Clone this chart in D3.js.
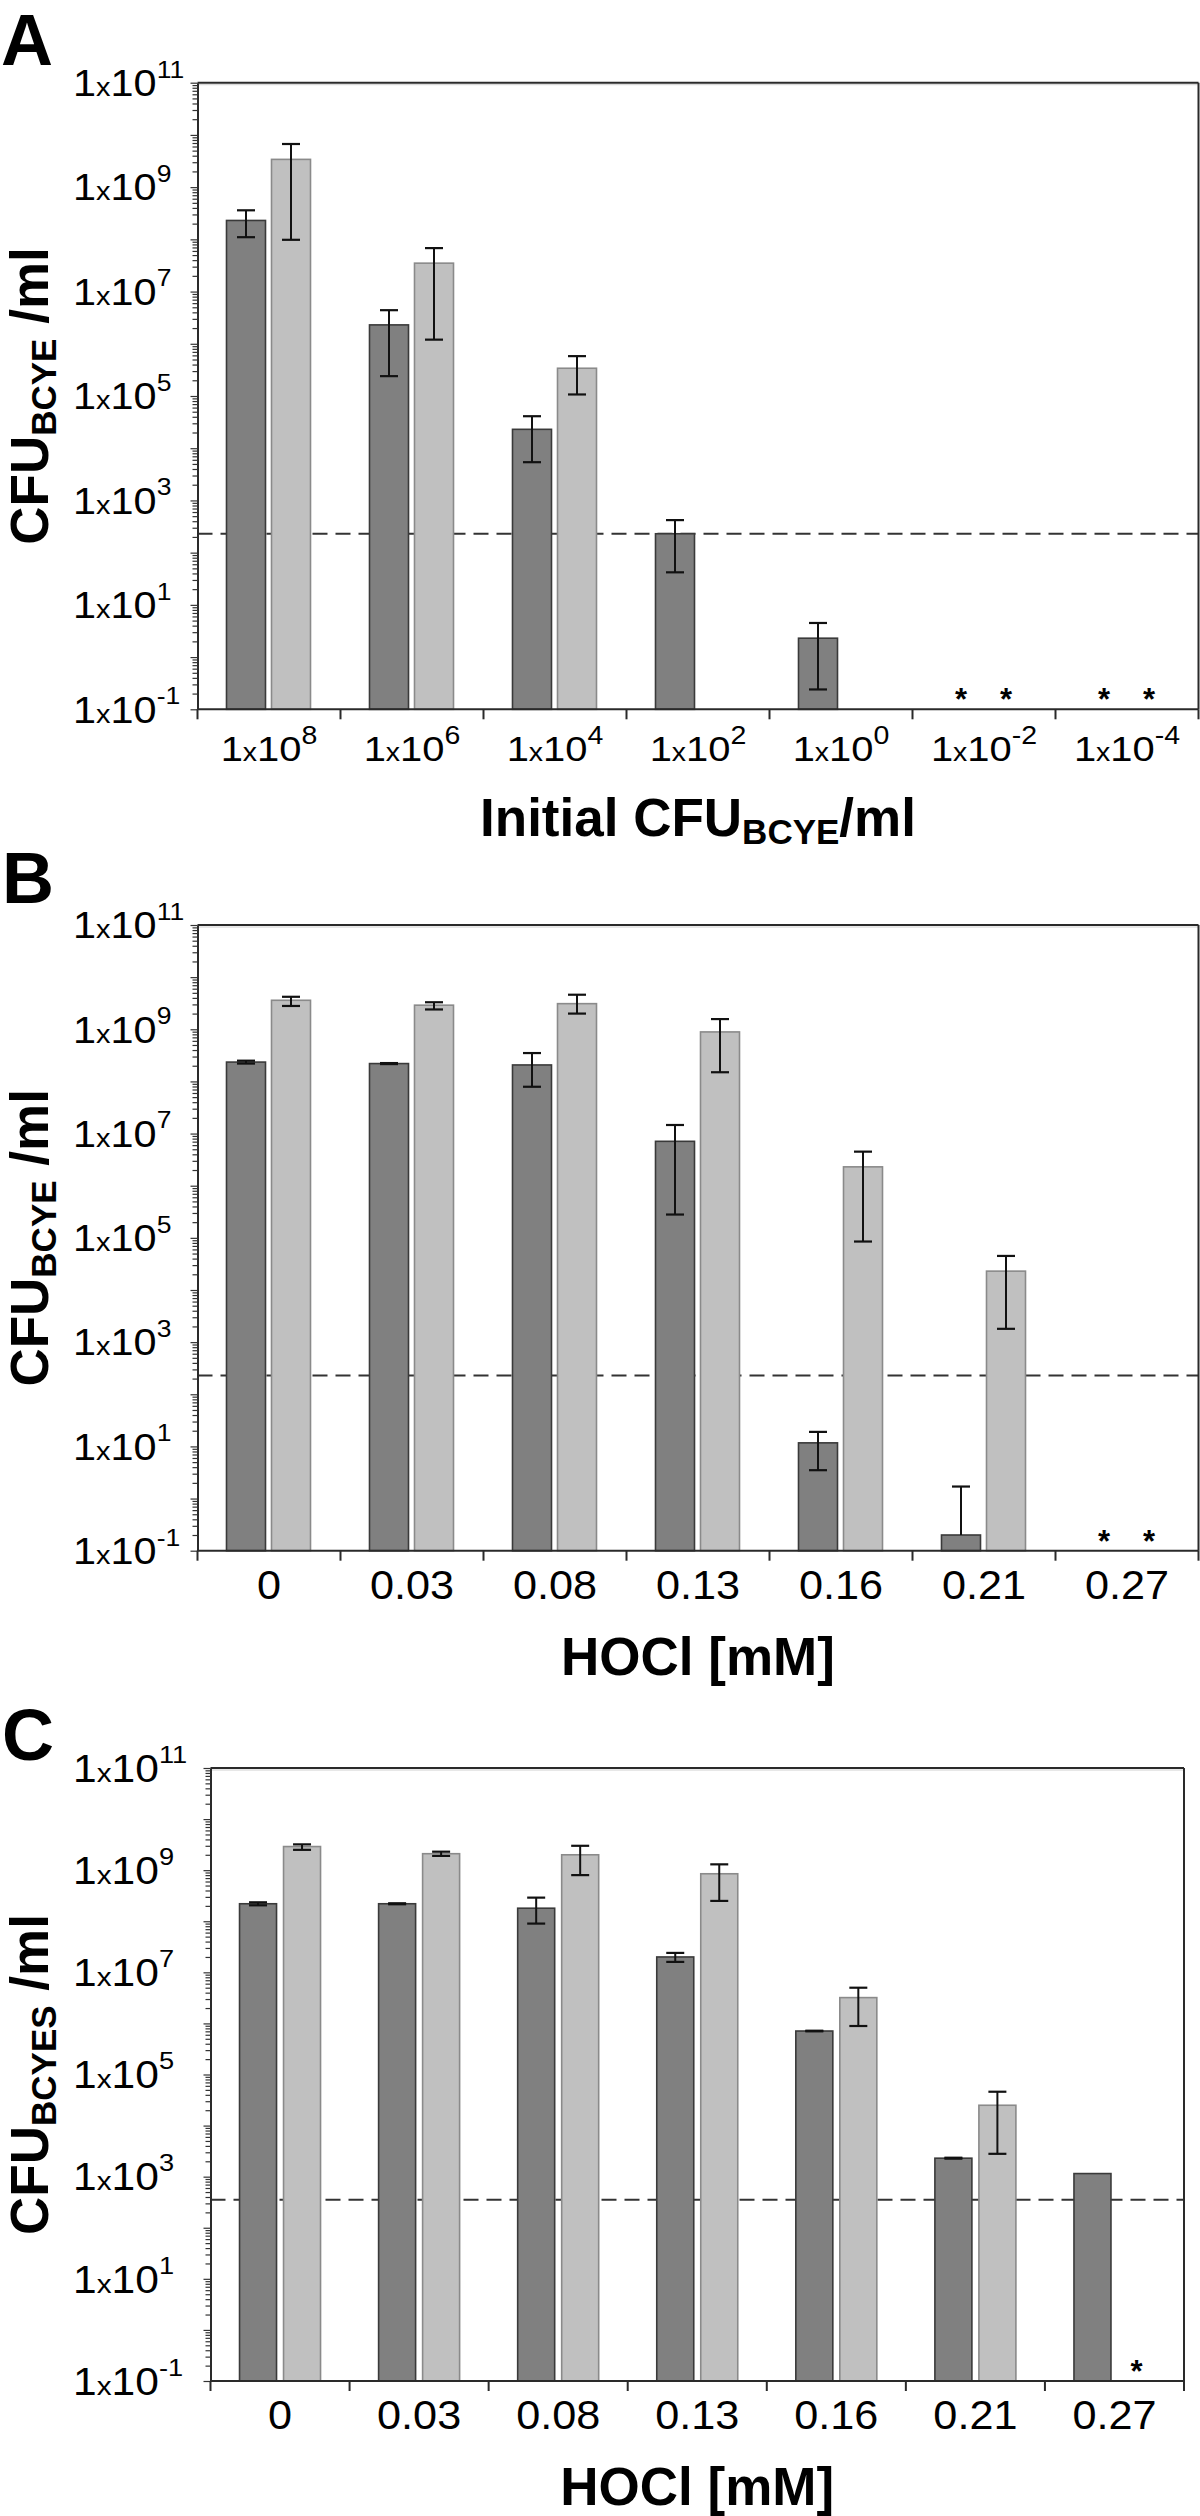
<!DOCTYPE html>
<html><head><meta charset="utf-8">
<script src="https://cdn.jsdelivr.net/npm/d3@7"></script>
<style>
body{margin:0;background:#fff}
svg{display:block}
text{font-family:"Liberation Sans",Arial,Helvetica,sans-serif;fill:#000}
</style>
</head><body>
<svg id="chart" width="1200" height="2516"></svg>
<script>
// ---------- data ----------
const initialExponents = [8, 6, 4, 2, 0, -2, -4];          // panel A categories: 1x10^n
const hoclLabels = ["0", "0.03", "0.08", "0.13", "0.16", "0.21", "0.27"]; // panels B, C
const yLabelExponents = [-1, 1, 3, 5, 7, 9, 11];

// Panel A
const aDark    = [2.3e8, 2.3e6, 2.3e4, 2.3e2, 2.3, null, null];
const aDarkHi  = [3.6e8, 4.4e6, 4.1e4, 4.2e2, 4.5, null, null];
const aDarkLo  = [1.1e8, 2.4e5, 5.4e3, 42, 0.24, null, null];
const aLight   = [3.4e9, 3.5e7, 3.4e5, null, null, null, null];
const aLightHi = [6.7e9, 6.8e7, 5.8e5, null, null, null, null];
const aLightLo = [9.8e7, 1.2e6, 1.07e5, null, null, null, null];
const aDarkStar  = [0, 0, 0, 0, 0, 1, 1];
const aLightStar = [0, 0, 0, 0, 0, 1, 1];
const aLimit = 230;

// Panel B
const bDark    = [2.35e8, 2.2e8, 2.07e8, 7.1e6, 11.7, 0.2, null];
const bDarkHi  = [2.5e8, 2.25e8, 3.5e8, 1.46e7, 19, 1.7, null];
const bDarkLo  = [2.2e8, 2.15e8, 7.9e7, 2.8e5, 3.5, null, null];
const bLight   = [3.6e9, 2.9e9, 3.1e9, 8.9e8, 2.3e6, 2.3e4, null];
const bLightHi = [4.2e9, 3.3e9, 4.6e9, 1.57e9, 4.5e6, 4.5e4, null];
const bLightLo = [2.8e9, 2.4e9, 2.0e9, 1.5e8, 8.5e4, 1.8e3, null];
const bDarkStar  = [0, 0, 0, 0, 0, 0, 1];
const bLightStar = [0, 0, 0, 0, 0, 0, 1];
const bLimit = 230;

// Panel C
const cDark    = [2.2e8, 2.2e8, 1.8e8, 2.0e7, 7.1e5, 2.3e3, 1.15e3];
const cDarkHi  = [2.35e8, 2.25e8, 2.9e8, 2.4e7, 7.2e5, 2.35e3, null];
const cDarkLo  = [2.05e8, 2.15e8, 9.0e7, 1.6e7, 7.0e5, 2.25e3, null];
const cLight   = [2.9e9, 2.1e9, 2.0e9, 8.5e8, 3.2e6, 2.5e4, null];
const cLightHi = [3.2e9, 2.3e9, 3.0e9, 1.3e9, 5.0e6, 4.6e4, null];
const cLightLo = [2.5e9, 1.9e9, 8.0e8, 2.5e8, 8.9e5, 2.8e3, null];
const cDarkStar  = [0, 0, 0, 0, 0, 0, 0];
const cLightStar = [0, 0, 0, 0, 0, 0, 1];
const cLimit = 354;

// ---------- drawing ----------
const svg = d3.select("#chart");

const panels = [
  {letter: "A", letterX: 1, letterY: 65, left: 197.5, right: 1198.5, top: 82.7, bottom: 709.3,
   barW: 39, offDark: -23, offLight: 22, yFont: 37, xlabelType: "exp",
   cats: initialExponents, limit: aLimit,
   series: [
     {mean: aDark, hi: aDarkHi, lo: aDarkLo, star: aDarkStar, fill: "#808080", stroke: "#3a3a3a"},
     {mean: aLight, hi: aLightHi, lo: aLightLo, star: aLightStar, fill: "#c0c0c0", stroke: "#8a8a8a"}],
   ytitle: ["CFU", "BCYE", " /ml"], xtitle: ["Initial CFU", "BCYE", "/ml"], xtitleY: 836},
  {letter: "B", letterX: 2, letterY: 903, left: 197.5, right: 1198.5, top: 925, bottom: 1550.7,
   barW: 39, offDark: -23, offLight: 22, yFont: 37, xlabelType: "text",
   cats: hoclLabels, limit: bLimit,
   series: [
     {mean: bDark, hi: bDarkHi, lo: bDarkLo, star: bDarkStar, fill: "#808080", stroke: "#3a3a3a"},
     {mean: bLight, hi: bLightHi, lo: bLightLo, star: bLightStar, fill: "#c0c0c0", stroke: "#8a8a8a"}],
   ytitle: ["CFU", "BCYE", " /ml"], xtitle: ["HOCl [mM]", "", ""], xtitleY: 1675},
  {letter: "C", letterX: 2, letterY: 1760, left: 210.5, right: 1184, top: 1768, bottom: 2381,
   barW: 37, offDark: -22, offLight: 22, yFont: 38, xlabelType: "text",
   cats: hoclLabels, limit: cLimit,
   series: [
     {mean: cDark, hi: cDarkHi, lo: cDarkLo, star: cDarkStar, fill: "#808080", stroke: "#3a3a3a"},
     {mean: cLight, hi: cLightHi, lo: cLightLo, star: cLightStar, fill: "#c0c0c0", stroke: "#8a8a8a"}],
   ytitle: ["CFU", "BCYES", " /ml"], xtitle: ["HOCl [mM]", "", ""], xtitleY: 2505}
];

const STRETCH = 1.12; // tick label glyphs in the figure are slightly wide

function drawPanel(p) {
  const g = svg.append("g");
  const n = p.cats.length;
  const x = d3.scaleBand().domain(d3.range(n)).range([p.left, p.right]).paddingInner(0).paddingOuter(0);
  const y = d3.scaleLog().domain([1e-1, 1e11]).range([p.bottom, p.top]);
  const cx = i => x(i) + x.bandwidth() / 2;
  const offs = [p.offDark, p.offLight];

  // panel letter
  g.append("text").attr("x", p.letterX).attr("y", p.letterY)
    .style("font-size", "72px").style("font-weight", "bold").text(p.letter);

  // detection limit (behind bars)
  g.append("line").attr("x1", p.left).attr("x2", p.right)
    .attr("y1", y(p.limit)).attr("y2", y(p.limit))
    .attr("stroke", "#333").attr("stroke-width", 2).attr("stroke-dasharray", "15,8");

  // bars
  p.series.forEach((s, si) => {
    g.selectAll(null).data(d3.range(n).filter(i => s.mean[i] != null)).enter().append("rect")
      .attr("x", i => cx(i) + offs[si] - p.barW / 2)
      .attr("width", p.barW)
      .attr("y", i => y(s.mean[i]))
      .attr("height", i => p.bottom - y(s.mean[i]))
      .attr("fill", s.fill).attr("stroke", s.stroke).attr("stroke-width", 1.6);
  });

  // error bars
  p.series.forEach((s, si) => {
    d3.range(n).filter(i => s.mean[i] != null && s.hi[i] != null).forEach(i => {
      const xc = cx(i) + offs[si];
      const yTop = y(s.hi[i]);
      const yBot = s.lo[i] != null ? y(Math.max(s.lo[i], 1e-1)) : y(s.mean[i]);
      g.append("line").attr("x1", xc).attr("x2", xc).attr("y1", yTop).attr("y2", yBot)
        .attr("stroke", "#111").attr("stroke-width", 2);
      g.append("line").attr("x1", xc - 9).attr("x2", xc + 9).attr("y1", yTop).attr("y2", yTop)
        .attr("stroke", "#111").attr("stroke-width", 2.2);
      if (s.lo[i] != null)
        g.append("line").attr("x1", xc - 9).attr("x2", xc + 9).attr("y1", yBot).attr("y2", yBot)
          .attr("stroke", "#111").attr("stroke-width", 2.2);
    });
  });

  // asterisks
  p.series.forEach((s, si) => {
    g.selectAll(null).data(d3.range(n).filter(i => s.star[i])).enter().append("text")
      .attr("x", i => cx(i) + offs[si]).attr("y", p.bottom + 1)
      .attr("text-anchor", "middle").style("font-size", "31px").style("font-weight", "bold").text("*");
  });

  // frame: top and right borders
  g.append("line").attr("x1", p.left).attr("x2", p.right).attr("y1", p.top).attr("y2", p.top)
    .attr("stroke", "#2a2a2a").attr("stroke-width", 2);
  g.append("line").attr("x1", p.left).attr("x2", p.right).attr("y1", p.top + 2).attr("y2", p.top + 2)
    .attr("stroke", "#d0d0d0").attr("stroke-width", 1);
  g.append("line").attr("x1", p.right).attr("x2", p.right).attr("y1", p.top).attr("y2", p.bottom)
    .attr("stroke", "#2a2a2a").attr("stroke-width", 2);

  // y axis with minor ticks
  const tickVals = [];
  for (let e = -1; e <= 10; e++) for (let k = 1; k <= 9; k++) tickVals.push(k * Math.pow(10, e));
  tickVals.push(1e11);
  const yAxis = g.append("g").attr("transform", `translate(${p.left},0)`)
    .call(d3.axisLeft(y).tickValues(tickVals).tickSize(5).tickFormat("").tickSizeOuter(0));
  yAxis.select(".domain").attr("stroke", "#2a2a2a").attr("stroke-width", 2);
  yAxis.selectAll(".tick line").attr("stroke", "#333").attr("stroke-width", 1.2)
    .attr("x2", d => (Math.abs(Math.log10(d) - Math.round(Math.log10(d))) < 1e-9) ? -7 : -5);

  // y tick labels 1x10^n
  yLabelExponents.forEach(e => {
    const f = p.yFont;
    const t = g.append("text")
      .attr("transform", `translate(73,${y(Math.pow(10, e)) + f * 0.36}) scale(${STRETCH},1)`)
      .style("font-size", f + "px");
    t.append("tspan").text("1");
    t.append("tspan").style("font-size", (f * 0.7) + "px").text("x");
    t.append("tspan").text("10");
    t.append("tspan").style("font-size", (f * 0.64) + "px").attr("dy", -f * 0.5).text(String(e));
  });

  // bottom axis
  g.append("line").attr("x1", p.left).attr("x2", p.right).attr("y1", p.bottom).attr("y2", p.bottom)
    .attr("stroke", "#2a2a2a").attr("stroke-width", 2);
  const bounds = d3.range(n).map(i => x(i)).concat([p.right]);
  g.selectAll(null).data(bounds).enter().append("line")
    .attr("x1", d => d).attr("x2", d => d).attr("y1", p.bottom).attr("y2", p.bottom + 10)
    .attr("stroke", "#2a2a2a").attr("stroke-width", 2);

  // x tick labels
  if (p.xlabelType === "exp") {
    p.cats.forEach((e, i) => {
      const t = g.append("text")
        .attr("transform", `translate(${cx(i)},${p.bottom + 52}) scale(${STRETCH + 0.02},1)`)
        .attr("text-anchor", "middle").style("font-size", "35px");
      t.append("tspan").text("1");
      t.append("tspan").style("font-size", "25px").text("x");
      t.append("tspan").text("10");
      t.append("tspan").style("font-size", "25px").attr("dy", -17).text(String(e));
    });
  } else {
    g.selectAll(null).data(p.cats).enter().append("text")
      .attr("transform", (d, i) => `translate(${cx(i)},${p.bottom + 48}) scale(1.08,1)`)
      .attr("text-anchor", "middle").style("font-size", "40px").text(d => d);
  }

  // x title
  const xt = g.append("text").attr("x", (p.left + p.right) / 2).attr("y", p.xtitleY)
    .attr("text-anchor", "middle").style("font-size", "53px").style("font-weight", "bold");
  xt.append("tspan").text(p.xtitle[0]);
  if (p.xtitle[1]) {
    xt.append("tspan").style("font-size", "35px").attr("dy", 8).text(p.xtitle[1]);
    xt.append("tspan").attr("dy", -8).text(p.xtitle[2]);
  }

  // y title (rotated)
  const yt = g.append("text")
    .attr("transform", `translate(48,${(p.top + p.bottom) / 2}) rotate(-90)`)
    .attr("text-anchor", "middle").style("font-size", "53px").style("font-weight", "bold");
  yt.append("tspan").text(p.ytitle[0]);
  yt.append("tspan").style("font-size", "35px").attr("dy", 8).text(p.ytitle[1]);
  yt.append("tspan").attr("dy", -8).text(p.ytitle[2]);
}

panels.forEach(drawPanel);
</script>
</body></html>
